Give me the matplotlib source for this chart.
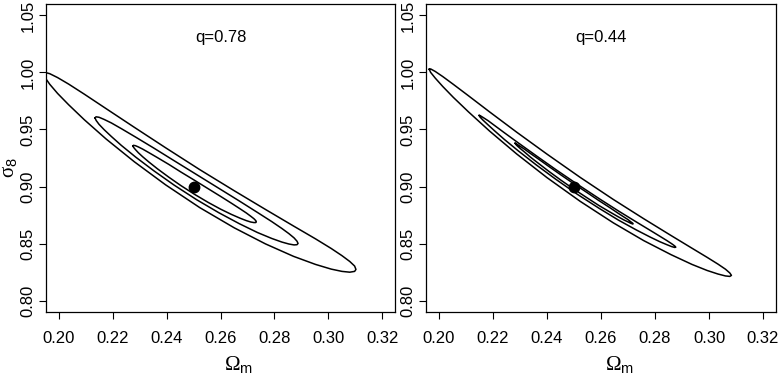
import numpy as np
import matplotlib
matplotlib.use("Agg")
import matplotlib.pyplot as plt

plt.rcParams['font.family'] = ['Liberation Sans', 'DejaVu Sans']
plt.rcParams['mathtext.fontset'] = 'custom'
plt.rcParams['mathtext.rm'] = 'Liberation Serif'
plt.rcParams['mathtext.sf'] = 'Liberation Sans'

# ---- data: confidence contours (Omega_m samples, upper / lower sigma_8 bounds) ----
# left panel, q = 0.78
q1_outer_om = [0.1943,0.1949,0.1966,0.1995,0.2036,0.2094,0.2175,0.2280,0.2396,0.2523,0.2651,0.2767,0.2871,0.2953,0.3011,0.3051,0.3080,0.3098,0.3103]
q1_outer_hi = [0.9988,1.0000,0.9989,0.9955,0.9898,0.9810,0.9683,0.9519,0.9340,0.9148,0.8963,0.8799,0.8654,0.8541,0.8457,0.8394,0.8343,0.8303,0.8273]
q1_outer_lo = [0.9988,0.9953,0.9896,0.9816,0.9717,0.9586,0.9417,0.9217,0.9015,0.8815,0.8638,0.8497,0.8388,0.8317,0.8276,0.8256,0.8249,0.8256,0.8273]

q1_mid_om = [0.2134,0.2138,0.2149,0.2168,0.2195,0.2232,0.2285,0.2353,0.2428,0.2511,0.2594,0.2670,0.2737,0.2790,0.2828,0.2854,0.2873,0.2884,0.2888]
q1_mid_hi = [0.9602,0.9611,0.9607,0.9588,0.9557,0.9507,0.9433,0.9336,0.9226,0.9105,0.8984,0.8873,0.8773,0.8693,0.8632,0.8587,0.8550,0.8521,0.8501]
q1_mid_lo = [0.9602,0.9580,0.9545,0.9498,0.9438,0.9360,0.9258,0.9137,0.9012,0.8885,0.8770,0.8674,0.8597,0.8545,0.8513,0.8496,0.8488,0.8490,0.8501]

q1_in_om = [0.2275,0.2277,0.2284,0.2295,0.2311,0.2334,0.2366,0.2408,0.2453,0.2504,0.2554,0.2600,0.2641,0.2673,0.2696,0.2712,0.2724,0.2731,0.2733]
q1_in_hi = [0.9357,0.9361,0.9358,0.9347,0.9328,0.9297,0.9253,0.9194,0.9127,0.9054,0.8981,0.8914,0.8853,0.8804,0.8768,0.8740,0.8718,0.8701,0.8690]
q1_in_lo = [0.9357,0.9344,0.9324,0.9296,0.9261,0.9215,0.9155,0.9082,0.9008,0.8931,0.8861,0.8802,0.8755,0.8722,0.8701,0.8689,0.8684,0.8684,0.8690]

# right panel, q = 0.44
q2_outer_om = [0.1964,0.1969,0.1986,0.2014,0.2053,0.2109,0.2187,0.2288,0.2400,0.2523,0.2646,0.2758,0.2859,0.2937,0.2993,0.3033,0.3061,0.3077,0.3083]
q2_outer_hi = [1.0028,1.0031,1.0009,0.9964,0.9896,0.9796,0.9655,0.9476,0.9284,0.9080,0.8886,0.8718,0.8571,0.8459,0.8379,0.8320,0.8275,0.8242,0.8221]
q2_outer_lo = [1.0028,1.0001,0.9951,0.9877,0.9782,0.9655,0.9487,0.9285,0.9078,0.8870,0.8681,0.8526,0.8403,0.8317,0.8264,0.8233,0.8216,0.8212,0.8221]

q2_mid_om = [0.2149,0.2152,0.2163,0.2182,0.2207,0.2243,0.2294,0.2360,0.2433,0.2513,0.2593,0.2665,0.2731,0.2782,0.2818,0.2844,0.2862,0.2873,0.2877]
q2_mid_hi = [0.9623,0.9622,0.9606,0.9577,0.9533,0.9470,0.9382,0.9270,0.9148,0.9019,0.8894,0.8785,0.8689,0.8616,0.8564,0.8526,0.8498,0.8479,0.8468]
q2_mid_lo = [0.9623,0.9609,0.9582,0.9540,0.9486,0.9411,0.9312,0.9190,0.9063,0.8931,0.8809,0.8705,0.8619,0.8557,0.8516,0.8490,0.8473,0.8466,0.8468]

q2_in_om = [0.2282,0.2284,0.2290,0.2301,0.2317,0.2338,0.2369,0.2408,0.2452,0.2500,0.2549,0.2592,0.2632,0.2662,0.2684,0.2700,0.2710,0.2717,0.2719]
q2_in_hi = [0.9379,0.9378,0.9369,0.9352,0.9327,0.9291,0.9240,0.9174,0.9101,0.9023,0.8946,0.8877,0.8816,0.8768,0.8734,0.8710,0.8691,0.8679,0.8673]
q2_in_lo = [0.9379,0.9371,0.9356,0.9333,0.9302,0.9259,0.9202,0.9131,0.9055,0.8976,0.8900,0.8834,0.8778,0.8737,0.8708,0.8690,0.8678,0.8672,0.8673]

fiducial_om = [0.25]
fiducial_s8 = [0.90]

panel_titles = ['q=0.78', 'q=0.44']
x_ticks = [0.20, 0.22, 0.24, 0.26, 0.28, 0.30, 0.32]
x_ticklabels = ['0.20', '0.22', '0.24', '0.26', '0.28', '0.30', '0.32']
y_ticks = [0.80, 0.85, 0.90, 0.95, 1.00, 1.05]
y_ticklabels = ['0.80', '0.85', '0.90', '0.95', '1.00', '1.05']

panels = [
    [(q1_outer_om, q1_outer_hi, q1_outer_lo), (q1_mid_om, q1_mid_hi, q1_mid_lo), (q1_in_om, q1_in_hi, q1_in_lo)],
    [(q2_outer_om, q2_outer_hi, q2_outer_lo), (q2_mid_om, q2_mid_hi, q2_mid_lo), (q2_in_om, q2_in_hi, q2_in_lo)],
]

fig = plt.figure(figsize=(7.79, 3.76), dpi=100)
ax1 = fig.add_axes([46/779, 64/376, 349/779, 308/376])
ax2 = fig.add_axes([426/779, 64/376, 350/779, 308/376])

for ax, contours, title in zip([ax1, ax2], panels, panel_titles):
    for om, hi, lo in contours:
        om = np.asarray(om); hi = np.asarray(hi); lo = np.asarray(lo)
        ax.plot(np.concatenate([om, om[::-1]]), np.concatenate([hi, lo[::-1]]),
                color='black', lw=1.1)
    ax.plot(fiducial_om, fiducial_s8, 'o', color='black', ms=7.5)
    ax.set_xlim(0.1952, 0.3248)
    ax.set_ylim(0.79, 1.06)
    ax.set_xticks(x_ticks)
    ax.set_xticklabels(x_ticklabels)
    ax.set_yticks(y_ticks)
    ax.set_yticklabels(y_ticklabels, rotation=90, va='center')
    ax.tick_params(length=5, width=0.8, labelsize=12)
    ax.tick_params(axis='x', pad=8.5)
    ax.tick_params(axis='y', pad=2.5)
    for s in ax.spines.values():
        s.set_linewidth(0.9)
    ax.text(0.26, 1.031, title, ha='center', va='center', fontsize=12)

fig.text(238/779, 6/376, r'$\Omega_{\mathsf{m}}$', ha='center', va='baseline', fontsize=15)
fig.text(619/779, 6/376, r'$\Omega_{\mathsf{m}}$', ha='center', va='baseline', fontsize=15)
fig.text(10/779, (376-167.5)/376, r'$\mathrm{\sigma}_{\mathsf{8}}$', rotation=90,
         ha='center', va='center', fontsize=15)

fig.savefig('out.png', dpi=100)
